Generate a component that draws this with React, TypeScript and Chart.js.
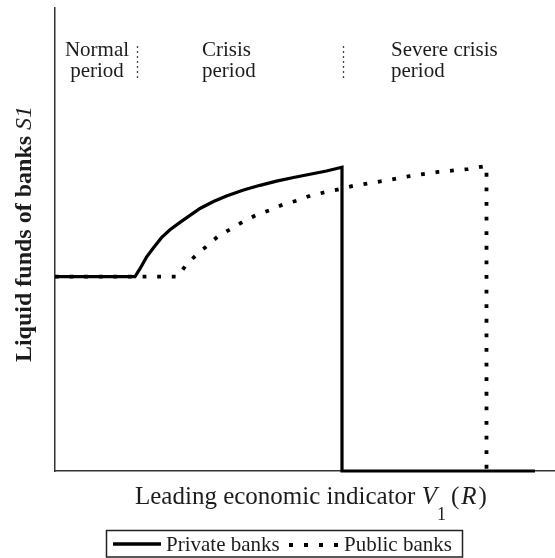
import React, { useEffect, useRef } from 'react';
import { Chart, registerables } from 'chart.js';

Chart.register(...registerables);

// ---- Data (x: leading economic indicator, y: liquid funds) ----
const privateX = [0, 16, 17, 18.3, 19.7, 21.3, 23, 25, 27, 29, 31.7, 34.3, 37.7, 41, 44.3, 47.7, 51, 54.3, 57.4, 57.4, 96];
const privateY = [42, 42, 43.7, 46.2, 48.2, 50.4, 52.1, 53.7, 55.2, 56.7, 58.2, 59.4, 60.7, 61.7, 62.6, 63.4, 64.1, 64.8, 65.6, 0, 0];

const publicX = [0, 24.6, 26.2, 28.3, 30.5, 32.7, 35.2, 37.8, 40.3, 43.1, 45.7, 48.7, 51.1, 54, 57, 59.7, 65.4, 71, 76.6, 82.6, 86.3, 86.3];
const publicY = [42, 42, 44.5, 46.7, 48.7, 50.8, 52.3, 54, 55.3, 56.4, 57.6, 58.5, 59.5, 60.2, 60.9, 61.6, 62.6, 63.7, 64.6, 65.2, 65.9, 0];

const seriesNames = ['Private banks', 'Public banks'];
const periodLines1 = ['Normal', 'Crisis', 'Severe crisis'];
const periodLines2 = ['period', 'period', 'period'];
const periodBoundaries = [16.4, 57.6];
const yTitleMain = 'Liquid funds of banks ';
const yTitleVar = 'S1';
const xTitleMain = 'Leading economic indicator ';
const xTitleVar = 'V';
const xTitleSub = '1';
const xTitleArg = 'R';

const toPoints = (xs: number[], ys: number[]) => xs.map((x, i) => ({ x, y: ys[i] }));

const SERIF = '"Liberation Serif", "Times New Roman", serif';
const TEXT = '#1c1c1c';

const annotations = {
  id: 'annotations',
  afterDraw(chart: any) {
    const { ctx, scales } = chart;
    const xs = scales.x;
    ctx.save();
    ctx.fillStyle = TEXT;
    ctx.textBaseline = 'alphabetic';

    // period labels
    ctx.font = `21px ${SERIF}`;
    const anchors = [
      { x: xs.getPixelForValue(8.4), align: 'center' },
      { x: xs.getPixelForValue(29.4), align: 'left' },
      { x: xs.getPixelForValue(67.2), align: 'left' },
    ];
    periodLines1.forEach((t, i) => {
      ctx.textAlign = anchors[i].align;
      ctx.fillText(t, anchors[i].x, 56);
      ctx.fillText(periodLines2[i], anchors[i].x, 77);
    });

    // period separators
    ctx.strokeStyle = '#444';
    ctx.lineWidth = 1.3;
    ctx.setLineDash([2, 3]);
    periodBoundaries.forEach((b) => {
      const px = Math.round(xs.getPixelForValue(b)) + 0.5;
      ctx.beginPath();
      ctx.moveTo(px, 46);
      ctx.lineTo(px, 79);
      ctx.stroke();
    });
    ctx.setLineDash([]);

    // y title
    ctx.save();
    ctx.translate(31, 234);
    ctx.rotate(-Math.PI / 2);
    ctx.textAlign = 'left';
    ctx.font = `bold 24px ${SERIF}`;
    const w1 = ctx.measureText(yTitleMain).width;
    ctx.font = `italic 24px ${SERIF}`;
    const w2 = ctx.measureText(yTitleVar).width;
    const start = -(w1 + w2) / 2;
    ctx.font = `bold 24px ${SERIF}`;
    ctx.fillText(yTitleMain, start, 0);
    ctx.font = `italic 24px ${SERIF}`;
    ctx.fillText(yTitleVar, start + w1, 0);
    ctx.restore();

    // x title
    ctx.textAlign = 'left';
    let x = 135;
    const base = 504;
    ctx.font = `25px ${SERIF}`;
    ctx.fillText(xTitleMain, x, base);
    x += ctx.measureText(xTitleMain).width;
    ctx.font = `italic 25px ${SERIF}`;
    ctx.fillText(xTitleVar, x, base);
    x += ctx.measureText(xTitleVar).width;
    ctx.font = `18px ${SERIF}`;
    ctx.fillText(xTitleSub, x, 520);
    x += ctx.measureText(xTitleSub).width + 5;
    ctx.font = `25px ${SERIF}`;
    ctx.fillText('(', x, base);
    x += ctx.measureText('(').width + 2;
    ctx.font = `italic 25px ${SERIF}`;
    ctx.fillText(xTitleArg, x, base);
    x += ctx.measureText(xTitleArg).width + 2;
    ctx.font = `25px ${SERIF}`;
    ctx.fillText(')', x, base);

    // legend
    ctx.strokeStyle = '#222';
    ctx.lineWidth = 1.5;
    ctx.strokeRect(106.5, 530.5, 356, 26.5);
    ctx.strokeStyle = '#000';
    ctx.lineWidth = 3.5;
    ctx.beginPath();
    ctx.moveTo(113, 544);
    ctx.lineTo(161, 544);
    ctx.stroke();
    ctx.font = `21px ${SERIF}`;
    ctx.fillStyle = TEXT;
    ctx.fillText(seriesNames[0], 166, 551);
    ctx.setLineDash([4, 11]);
    ctx.lineWidth = 4;
    ctx.beginPath();
    ctx.moveTo(289, 545);
    ctx.lineTo(338, 545);
    ctx.stroke();
    ctx.setLineDash([]);
    ctx.fillText(seriesNames[1], 344, 551);

    ctx.restore();
  },
};

export default function App() {
  const ref = useRef<HTMLCanvasElement>(null);

  useEffect(() => {
    const canvas = ref.current;
    if (!canvas) return;
    const chart = new Chart(canvas, {
      type: 'line',
      data: {
        datasets: [
          {
            label: seriesNames[0],
            data: toPoints(privateX, privateY),
            borderColor: '#000',
            borderWidth: 3.2,
            pointRadius: 0,
            tension: 0,
            fill: false,
            clip: false as any,
            borderJoinStyle: 'miter',
          },
          {
            label: seriesNames[1],
            data: toPoints(publicX, publicY),
            borderColor: '#000',
            borderWidth: 3.8,
            borderDash: [3.8, 10.8],
            borderCapStyle: 'butt',
            pointRadius: 0,
            tension: 0,
            fill: false,
            clip: false as any,
          },
        ],
      },
      options: {
        animation: false,
        responsive: false,
        maintainAspectRatio: false,
        layout: { padding: { top: 8, left: 0, right: 0, bottom: 0 } },
        plugins: {
          legend: { display: false },
          tooltip: { enabled: false },
        },
        scales: {
          x: {
            type: 'linear',
            min: 0,
            max: 100,
            grid: { display: false },
            ticks: { display: false },
            border: { display: true, color: '#333', width: 1.5 },
            afterFit: (s: any) => {
              s.height = 87;
            },
          },
          y: {
            type: 'linear',
            min: 0,
            max: 100,
            grid: { display: false },
            ticks: { display: false },
            border: { display: true, color: '#333', width: 1.5 },
            afterFit: (s: any) => {
              s.width = 55;
            },
          },
        },
      },
      plugins: [annotations],
    });
    return () => chart.destroy();
  }, []);

  return (
    <div style={{ position: 'absolute', left: 0, top: 0, width: 555, height: 558, background: '#fff' }}>
      <canvas ref={ref} width={555} height={558} />
    </div>
  );
}
